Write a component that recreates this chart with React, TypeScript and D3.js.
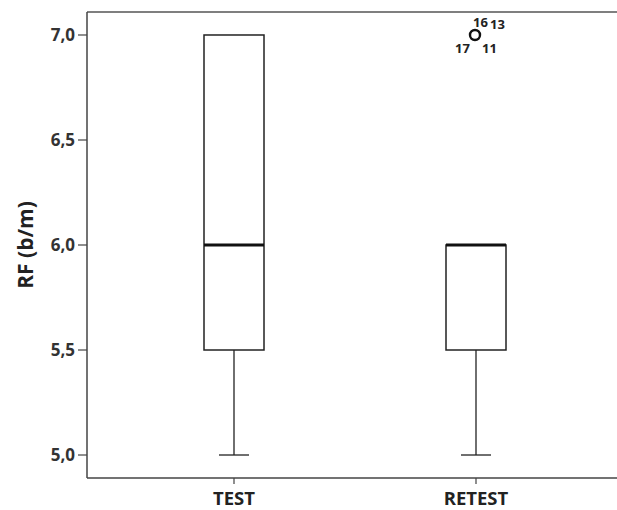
import React from "react";
import * as d3 from "d3";

const categories = ["TEST", "RETEST"];
const whiskerLow = [5.0, 5.0];
const q1 = [5.5, 5.5];
const median = [6.0, 6.0];
const q3 = [7.0, 6.0];
const whiskerHigh = [7.0, 6.0];
const outlierCategory = ["RETEST"];
const outlierValue = [7.0];
const yTicks = [5.0, 5.5, 6.0, 6.5, 7.0];

const W = 617;
const H = 510;
const left = 87;
const right = 617;
const top = 12;
const bottom = 478;

export default function App() {
  const y = d3.scaleLinear().domain([4.8905, 7.1095]).range([bottom, top]);
  const x = d3.scalePoint<string>().domain(categories).range([234, 476]);
  const boxW = 60;
  const capW = 30;
  const fmt = (v: number) => v.toFixed(1).replace(".", ",");
  const font = "'Open Sans', 'DejaVu Sans', sans-serif";
  const stroke = "#222";

  return (
    <svg width={W} height={H} style={{ position: "absolute", left: 0, top: 0, background: "#fff" }}>
      <rect x={0} y={0} width={W} height={H} fill="#fff" />
      {/* frame */}
      <line x1={left} x2={right} y1={top} y2={top} stroke="#555" strokeWidth={1.5} />
      <line x1={left} x2={right} y1={bottom} y2={bottom} stroke="#444" strokeWidth={1.5} />
      <line x1={left} x2={left} y1={top} y2={bottom} stroke="#444" strokeWidth={1.5} />
      {/* y ticks */}
      {yTicks.map((t) => (
        <g key={t}>
          <line x1={left - 9} x2={left} y1={y(t)} y2={y(t)} stroke="#444" strokeWidth={1.2} />
          <text x={left - 12} y={y(t)} dy="0.36em" textAnchor="end" fontFamily={font} fontWeight="bold" fontSize={17} fill="#333">
            {fmt(t)}
          </text>
        </g>
      ))}
      <text transform={`translate(33,245) rotate(-90)`} textAnchor="middle" fontFamily={font} fontWeight="bold" fontSize={21} fill="#222">
        RF (b/m)
      </text>
      {/* x ticks */}
      {categories.map((c) => (
        <g key={c}>
          <line x1={x(c)} x2={x(c)} y1={bottom} y2={bottom + 6} stroke="#444" strokeWidth={1.2} />
          <text x={x(c)} y={505} textAnchor="middle" fontFamily={font} fontWeight="bold" fontSize={18.5} fill="#222">
            {c}
          </text>
        </g>
      ))}
      {/* boxes */}
      {categories.map((c, i) => {
        const cx = x(c) as number;
        return (
          <g key={c}>
            <line x1={cx} x2={cx} y1={y(whiskerLow[i])} y2={y(q1[i])} stroke={stroke} strokeWidth={1.3} />
            <line x1={cx - capW / 2} x2={cx + capW / 2} y1={y(whiskerLow[i])} y2={y(whiskerLow[i])} stroke={stroke} strokeWidth={1.3} />
            {whiskerHigh[i] > q3[i] && (
              <>
                <line x1={cx} x2={cx} y1={y(whiskerHigh[i])} y2={y(q3[i])} stroke={stroke} strokeWidth={1.3} />
                <line x1={cx - capW / 2} x2={cx + capW / 2} y1={y(whiskerHigh[i])} y2={y(whiskerHigh[i])} stroke={stroke} strokeWidth={1.3} />
              </>
            )}
            <rect x={cx - boxW / 2} y={y(q3[i])} width={boxW} height={y(q1[i]) - y(q3[i])} fill="#fff" stroke={stroke} strokeWidth={1.5} />
            <line x1={cx - boxW / 2} x2={cx + boxW / 2} y1={y(median[i])} y2={y(median[i])} stroke="#111" strokeWidth={3} />
          </g>
        );
      })}
      {/* outliers */}
      {outlierCategory.map((c, i) => {
        const cx = (x(c) as number) - 1;
        const cy = y(outlierValue[i]);
        return (
          <g key={i}>
            <circle cx={cx} cy={cy} r={5} fill="none" stroke="#111" strokeWidth={2.4} />
            <text x={cx - 2} y={cy - 8} fontFamily={font} fontWeight="bold" fontSize={13} fill="#222">16</text>
            <text x={cx + 15} y={cy - 6} fontFamily={font} fontWeight="bold" fontSize={13} fill="#222">13</text>
            <text x={cx - 20} y={cy + 18} fontFamily={font} fontWeight="bold" fontSize={13} fill="#222">17</text>
            <text x={cx + 7} y={cy + 18} fontFamily={font} fontWeight="bold" fontSize={13} fill="#222">11</text>
          </g>
        );
      })}
    </svg>
  );
}
